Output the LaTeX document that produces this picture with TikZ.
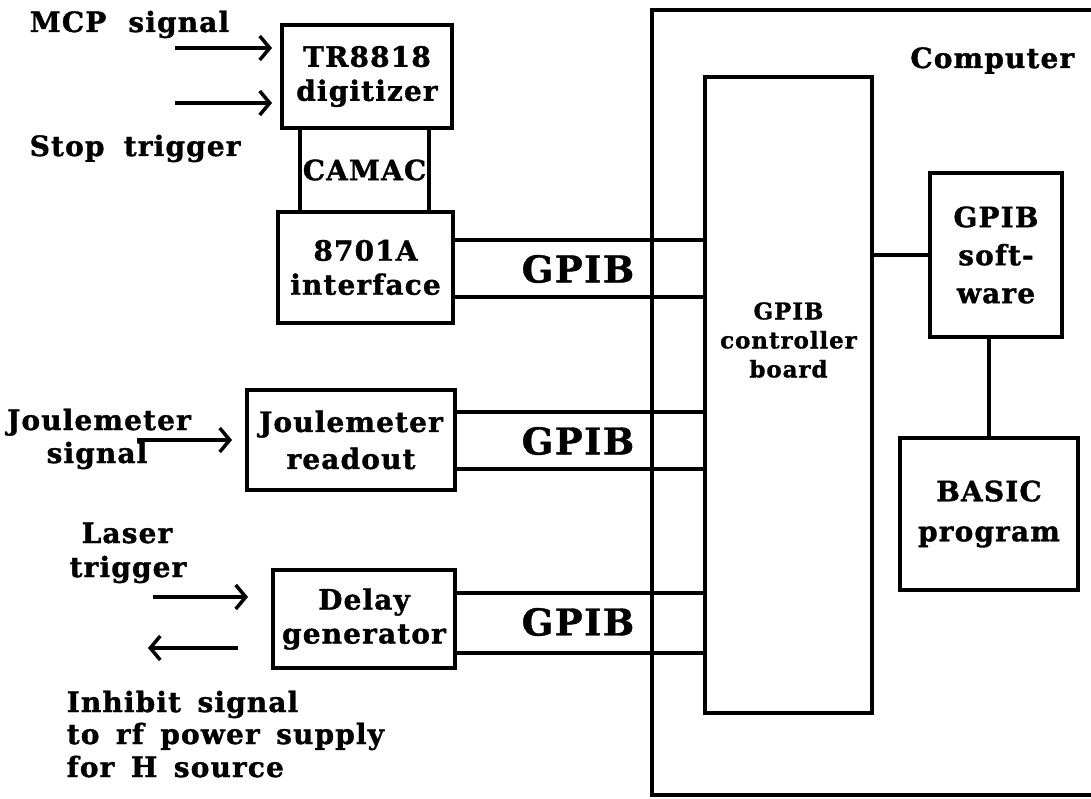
\documentclass[tikz,border=0pt]{standalone}
\usepackage{fontspec}
\setmainfont{DejaVu Serif}[LetterSpace=4,BoldFeatures={FakeBold=1.2}]
\usetikzlibrary{arrows.meta}
\newcommand{\fsz}[2]{\fontsize{#1}{#2}\selectfont\bfseries}
\begin{document}
\begin{tikzpicture}[x=1pt,y=-1pt,line width=3.5pt,
  box/.style={draw,line width=3.5pt,inner sep=0pt,align=center,font=\fsz{28}{34}},
  lbl/.style={inner sep=0pt,font=\fsz{28}{34}},
  big/.style={inner sep=0pt,font=\fsz{37}{40}},
  sig/.style={-{Straight Barb[length=10pt,width=24pt]}}]
\useasboundingbox (0,0) rectangle (1091,799);
% computer enclosure
\node[draw,line width=3.5pt,minimum width=456pt,minimum height=785pt,inner sep=0pt] (comp) at (880,402.5) {};
\node[lbl,anchor=base east] (comptxt) at (1076,68) {Computer};
% boxes
\node[box,minimum width=170pt,minimum height=103pt] (tr) at (367,76.5) {TR8818\\digitizer};
\node[box,minimum width=129pt,minimum height=84pt] (camac) at (364.5,170) {CAMAC};
\node[box,minimum width=175pt,minimum height=111pt] (ifc) at (365.5,267.5) {8701A\\interface};
\node[box,minimum width=208pt,minimum height=100pt,font=\fsz{28}{37}] (joule) at (351,440) {Joulemeter\\readout};
\node[box,minimum width=182pt,minimum height=98pt] (delay) at (364,619) {Delay\\generator};
\node[draw,line width=3.5pt,minimum width=167pt,minimum height=636pt,inner sep=0pt] (ctrl) at (788.5,395) {};
\node[inner sep=0pt,align=center,font=\fsz{23}{29}] (ctrltxt) at (788.5,340) {GPIB\\controller\\board};
\node[box,minimum width=132pt,minimum height=164pt,font=\fsz{28}{38}] (soft) at (996,255) {GPIB\\soft-\\ware};
\node[box,minimum width=178pt,minimum height=152pt,font=\fsz{28}{40}] (basic) at (989,514) {BASIC\\program};
% GPIB buses
\draw (ifc.east |- {(0,240)}) -- (ctrl.west |- {(0,240)});
\draw (ifc.east |- {(0,297)}) -- (ctrl.west |- {(0,297)});
\draw (joule.east |- {(0,412)}) -- (ctrl.west |- {(0,412)});
\draw (joule.east |- {(0,469)}) -- (ctrl.west |- {(0,469)});
\draw (delay.east |- {(0,593)}) -- (ctrl.west |- {(0,593)});
\draw (delay.east |- {(0,653)}) -- (ctrl.west |- {(0,653)});
\node[big] (g1) at (578,269) {GPIB};
\node[big] (g2) at (578,441) {GPIB};
\node[big] (g3) at (578,622) {GPIB};
% internal links
\draw (ctrl.east |- soft.west) -- (soft.west);
\draw (soft.south -| basic.north) -- (basic.north);
% left labels and signals
\node[lbl,anchor=base west] (mcp) at (28,32) {MCP\hspace{0.4em} signal};
\node[lbl,anchor=base west] (stop) at (28,156) {Stop\hspace{0.3em} trigger};
\coordinate (mcpA) at (175,48); \coordinate (mcpB) at (272,48);
\coordinate (stA) at (175,103); \coordinate (stB) at (272,103);
\draw[sig] (mcpA) -- (mcpB);
\draw[sig] (stA) -- (stB);
\node[lbl,anchor=base] (jsig1) at (99,430) {Joulemeter};
\node[lbl,anchor=base] (jsig2) at (97,463) {signal};
\coordinate (jA) at (137,440); \coordinate (jB) at (232,440);
\draw[sig] (jA) -- (jB);
\node[lbl,anchor=base] (laser1) at (127,543) {Laser};
\node[lbl,anchor=base] (laser2) at (128,577) {trigger};
\coordinate (lA) at (153,597); \coordinate (lB) at (248,597);
\draw[sig] (lA) -- (lB);
\coordinate (iA) at (238,648); \coordinate (iB) at (148,648);
\draw[sig] (iA) -- (iB);
\node[lbl,anchor=base west] (inh1) at (65,712) {Inhibit\hspace{0.2em} signal};
\node[lbl,anchor=base west] (inh2) at (65,744) {to\hspace{0.2em} rf\hspace{0.2em} power\hspace{0.2em} supply};
\node[lbl,anchor=base west] (inh3) at (65,777) {for\hspace{0.2em} H\hspace{0.2em} source};
\end{tikzpicture}
\end{document}
